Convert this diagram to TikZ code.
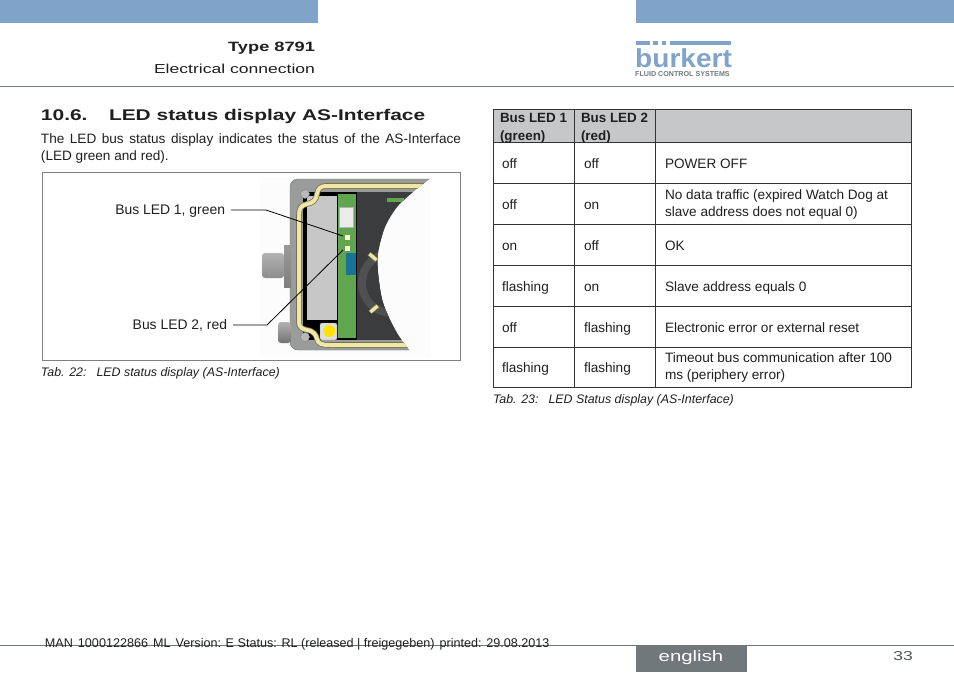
\documentclass[tikz,border=0pt]{standalone}
\usepackage{fontspec}
\setmainfont{Liberation Sans}
\newfontfamily\headfont[FakeStretch=1.35]{Liberation Sans}
\newfontfamily\logofont[FakeStretch=1.08]{Liberation Sans}
\definecolor{burkertblue}{HTML}{7FA3C9}
\definecolor{rulegray}{HTML}{71787C}
\definecolor{headgray}{HTML}{C5C7C9}
\definecolor{sealcream}{HTML}{F0E6A8}
\definecolor{sealedge}{HTML}{77724A}
\definecolor{bodygray}{HTML}{9A9C9C}
\definecolor{boardgreen}{HTML}{5FA64E}
\definecolor{paneldark}{HTML}{3B3C3E}
\tikzset{
	pagetext/.style={inner sep=0, outer sep=0, text=black!88, font=\fontsize{13.6}{17}\selectfont},
	celltext/.style={pagetext, anchor=west, align=left, yshift=-1.5pt, execute at begin node=\strut, execute at end node=\strut},
	headtext/.style={pagetext, anchor=north west, align=left, font=\fontsize{13.4}{18}\selectfont\bfseries},
	captext/.style={pagetext, anchor=base west, font=\fontsize{12.4}{14}\selectfont\itshape},
	ledlabel/.style={pagetext, anchor=east, inner xsep=6pt, font=\fontsize{13.9}{17}\selectfont, text height=10pt, text depth=2pt},
	leader/.style={draw=black, line width=.8pt},
}

\begin{document}
\begin{tikzpicture}[x=1pt, y=-1pt]
	\useasboundingbox (0,0) rectangle (954,673);
	% header
	\fill[burkertblue] (0,0) rectangle (318,23);
	\fill[burkertblue] (636,0) rectangle (954,23);
	\draw[color=rulegray] (0,86) -- (954,86);
	\node[pagetext, anchor=base east, font=\headfont\fontsize{13.5}{16}\selectfont\bfseries] (doctype) at (315,51) {Type 8791};
	\node[pagetext, anchor=base east, font=\headfont\fontsize{13}{16}\selectfont] (docpart) at (315,73) {Electrical connection};
	% logo
	\fill[burkertblue] (636,41) rectangle (650,45);
	\fill[burkertblue] (653,41) rectangle (658,45);
	\fill[burkertblue] (662,41) rectangle (666,45);
	\fill[burkertblue] (670,41) rectangle (731,45);
	\node[inner sep=0, anchor=base west, text=burkertblue, text depth=0pt, font=\logofont\fontsize{26}{26}\selectfont\bfseries] (logo) at (635,67) {burkert};
	\node[inner sep=0, anchor=base west, text=rulegray, font=\fontsize{7.15}{8}\selectfont\bfseries] (logosub) at (635,76) {FLUID CONTROL SYSTEMS};
	% left column
	\node[pagetext, anchor=base west, font=\headfont\fontsize{15.5}{18}\selectfont\bfseries] (secnum) at (41,120) {10.6.};
	\node[pagetext, anchor=base west, font=\headfont\fontsize{15.5}{18}\selectfont\bfseries] (sectitle) at (109,120) {LED status display AS-Interface};
	\node[pagetext, anchor=north west, text width=420pt, align=justify] (intro) at (41,134) {The LED bus status display indicates the status of the AS-Interface\linebreak (LED green and red).};
	% photo
	\fill[black!1] (260,177) rectangle (431,357);
	\begin{scope}
		\clip (285,176) -- (431,176) -- plot[smooth] coordinates {(431,178) (413,192) (397,207) (385,227) (378,253) (378,273) (383,303) (397,333) (411,352)} -- (285,352) -- cycle;
		\fill[bodygray, draw=black!55, rounded corners=8pt] (290,179) rectangle (450,350);
		\fill[black] (303,192) rectangle (358,340);
		\fill[paneldark] (357,192) rectangle (440,340);
		\fill[paneldark!90!white] (392,283) circle (34);
		\fill[paneldark] (392,283) circle (26);
		\fill[black!22] (307,196) rectangle (337,320);
		\fill[boardgreen] (338,194) rectangle (356,338);
		\fill[boardgreen] (387,198) rectangle (404,202);
		\draw[double=sealcream, double distance=4pt, color=sealedge, line width=.8pt] (440,186) -- (326,186) .. controls (320,186) and (318,189) .. (317,194) .. controls (316,200) and (313,203) .. (307,204) .. controls (301,205) and (299,209) .. (299,215) -- (299,322) .. controls (299,327) and (302,329) .. (307,330) .. controls (314,331) and (316,335) .. (317,339) .. controls (318,344) and (322,345) .. (330,345) -- (440,345);
	\end{scope}
	\fill[bodygray!70, draw=black!50] (305,194) circle (4.5);
	\fill[bodygray!70, draw=black!50] (305,337) circle (4.5);
	\fill[black!12, draw=black!45, rounded corners=2pt] (320,323) rectangle (337,340);
	\fill[yellow!85!orange] (329,331) circle (6);
	\fill[black!8, draw=black!30] (339,207) rectangle (353,227);
	\fill[white!85!yellow] (344.5,234.5) rectangle (350,240);
	\fill[white!85!yellow] (344.5,245.5) rectangle (350,251);
	\fill[blue!45!cyan!70!black, opacity=.75] (346,253) rectangle (356,275);
	\fill[sealcream, draw=sealedge, rotate around={-40:(373,257)}] (368,255) rectangle (378,259);
	\fill[sealcream, draw=sealedge, rotate around={40:(374,309)}] (369,307) rectangle (379,311);
	\shade[top color=black!30, middle color=white, bottom color=black!45, rounded corners=3pt] (262,253) rectangle (284,278);
	\shade[top color=black!40, middle color=black!10, bottom color=black!50] (284,245) rectangle (291,287);
	\shade[top color=black!30, middle color=black!15, bottom color=black!55, rounded corners=3pt] (278,322) rectangle (291,343);
	% frame and leaders
	\draw[color=black!50] (42,172) rectangle (460.5,360.5);
	\node[ledlabel] (busone) at (231,210) {Bus LED 1, green};
	\node[ledlabel] (bustwo) at (233,325) {Bus LED 2, red};
	\coordinate (bendone) at (266,210);
	\coordinate (bendtwo) at (267,325);
	\coordinate (ledone) at (343,236);
	\coordinate (ledtwo) at (343,250);
	\draw[leader] (busone.east) -- (bendone) -- (ledone);
	\draw[leader] (bustwo.east) -- (bendtwo) -- (ledtwo);
	\node[captext] (capleft) at (41,376) {Tab. 22:\hspace{10pt}LED status display (AS-Interface)};
	% table
	\fill[headgray] (493,109) rectangle (911,142);
	\draw[color=black!80] (493,109) rectangle (911,387);
	\draw[color=black!80] (574,109) -- (574,387);
	\draw[color=black!80] (655,109) -- (655,387);
	\draw[color=black!80] (493,142) -- (911,142);
	\draw[color=black!80] (493,183) -- (911,183);
	\draw[color=black!80] (493,224) -- (911,224);
	\draw[color=black!80] (493,265) -- (911,265);
	\draw[color=black!80] (493,306) -- (911,306);
	\draw[color=black!80] (493,347) -- (911,347);
	\node[headtext] (headone) at (500,113) {Bus LED 1\\(green)};
	\node[headtext] (headtwo) at (581,113) {Bus LED 2\\(red)};
	\node[celltext] (onea) at (502,163.5) {off};
	\node[celltext] (oneb) at (584,163.5) {off};
	\node[celltext] (onec) at (665,163.5) {POWER OFF};
	\node[celltext] (twoa) at (502,204.5) {off};
	\node[celltext] (twob) at (584,204.5) {on};
	\node[celltext] (twoc) at (665,204.5) {No data traffic (expired Watch Dog at\\slave address does not equal 0)};
	\node[celltext] (threea) at (502,245.5) {on};
	\node[celltext] (threeb) at (584,245.5) {off};
	\node[celltext] (threec) at (665,245.5) {OK};
	\node[celltext] (foura) at (502,286.5) {flashing};
	\node[celltext] (fourb) at (584,286.5) {on};
	\node[celltext] (fourc) at (665,286.5) {Slave address equals 0};
	\node[celltext] (fivea) at (502,327.5) {off};
	\node[celltext] (fiveb) at (584,327.5) {flashing};
	\node[celltext] (fivec) at (665,327.5) {Electronic error or external reset};
	\node[celltext] (sixa) at (502,367.5) {flashing};
	\node[celltext] (sixb) at (584,367.5) {flashing};
	\node[celltext] (sixc) at (665,367.5) {Timeout bus communication after 100\\ms (periphery error)};
	\node[captext] (capright) at (493,403) {Tab. 23:\hspace{10pt}LED Status display (AS-Interface)};
	% footer
	\draw[color=rulegray] (0,645) -- (954,645);
	\fill[rulegray] (636,645) rectangle (747,672);
	\node[inner sep=0, text=white, font=\headfont\fontsize{15.1}{18}\selectfont] (lang) at (691,657.5) {english};
	\node[pagetext, anchor=base east, text=rulegray!70!black, font=\headfont\fontsize{13}{16}\selectfont] (pagenum) at (913,660) {33};
	\node[pagetext, anchor=base west, font=\fontsize{12.6}{14}\selectfont] (imprint) at (45,647) {MAN\hspace{5pt}1000122866\hspace{5pt}ML\hspace{5pt}Version: E Status: RL (released | freigegeben)\hspace{5pt}printed: 29.08.2013};
\end{tikzpicture}
\end{document}
